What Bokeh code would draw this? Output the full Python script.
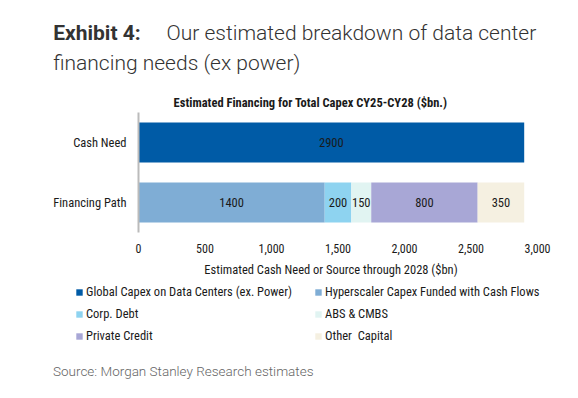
from bokeh.plotting import figure
from bokeh.layouts import column
from bokeh.models import (Range1d, FactorRange, FixedTicker, NumeralTickFormatter,
                          ColumnDataSource, Legend, LegendItem)
from bokeh.core.properties import value
from bokeh.embed import file_html
from bokeh.resources import INLINE

# ---- data ----
categories = ["Financing Path", "Cash Need"]
series_keys = ["global", "hyper", "corp", "abs", "private", "other"]
series_names = ["Global Capex on Data Centers (ex. Power)",
                "Hyperscaler Capex Funded with Cash Flows",
                "Corp. Debt", "ABS & CMBS", "Private Credit", "Other  Capital"]
financing_path = [0, 1400, 200, 150, 800, 350]
cash_need = [2900, 0, 0, 0, 0, 0]
x_ticks = [0, 500, 1000, 1500, 2000, 2500, 3000]
colors = ["#005BA6", "#7FADD5", "#8ED3F0", "#E1F4F2", "#A8A7D6", "#F5F0E1"]

COND = "Roboto Condensed, Roboto"
LIGHT = "Roboto Light, Roboto"
TXT = "#1a1a1a"
W = 562


def blank(h, y_top):
    f = figure(width=W, height=h, output_backend="svg", toolbar_location=None,
               x_range=Range1d(0, W), y_range=Range1d(y_top + h, y_top),
               x_axis_type=None, y_axis_type=None, min_border=0, title=None)
    f.outline_line_color = None
    f.xgrid.visible = False
    f.ygrid.visible = False
    return f


# ---- top: headings ----
top = blank(112, 0)
top.text(x=[52.7], y=[32.5], text=["Exhibit 4:"], text_font=value("Roboto"),
         text_font_style="bold", text_font_size="21px", text_color="#333333",
         text_baseline="middle")
top.text(x=[166, 52.7], y=[32.5, 62.5],
         text=["Our estimated breakdown of data center", "financing needs (ex power)"],
         text_font=value(LIGHT), text_font_size="21px", text_color="#333333",
         text_baseline="middle")
top.text(x=[310], y=[102], text=["Estimated Financing for Total Capex CY25-CY28 ($bn.)"],
         text_font=value(COND), text_font_style="bold", text_font_size="12.5px",
         text_color=TXT, text_align="center", text_baseline="middle")

# ---- main chart ----
data = {"cat": categories}
for i, k in enumerate(series_keys):
    data[k] = [financing_path[i], cash_need[i]]
src = ColumnDataSource(data)

p = figure(width=W, height=148, output_backend="svg", toolbar_location=None,
           x_range=Range1d(0, 3000), y_range=FactorRange(factors=categories),
           min_border_left=138, min_border_right=25, min_border_top=0,
           min_border_bottom=28, title=None)
p.y_range.range_padding = 0
p.outline_line_color = None
p.xgrid.visible = False
p.ygrid.visible = False

p.hbar_stack(series_keys, y="cat", height=0.667, color=colors, line_color=None,
             source=src)

lx, ly, lt = [], [], []
for cat, vals in zip(categories, [financing_path, cash_need]):
    left = 0
    for v in vals:
        if v:
            lx.append(left + v / 2)
            ly.append(cat)
            lt.append(str(v))
        left += v
p.text(x=lx, y=ly, text=lt, text_align="center", text_baseline="middle",
       text_font=value(COND), text_font_size="12.5px", text_color=TXT)

xa = p.xaxis[0]
xa.ticker = FixedTicker(ticks=x_ticks)
xa.formatter = NumeralTickFormatter(format="0,0")
xa.axis_line_color = None
xa.major_tick_line_color = None
xa.minor_tick_line_color = None
xa.major_tick_out = 0
xa.major_tick_in = 0
xa.major_label_standoff = 11
xa.major_label_text_font = COND
xa.major_label_text_font_size = "12px"
xa.major_label_text_color = TXT

ya = p.yaxis[0]
ya.axis_line_color = "#BBBBBB"
ya.axis_line_width = 2
ya.major_tick_line_color = None
ya.minor_tick_line_color = None
ya.major_tick_out = 0
ya.major_tick_in = 0
ya.major_label_standoff = 12
ya.major_label_text_font = COND
ya.major_label_text_font_size = "12.5px"
ya.major_label_text_color = TXT

# ---- bottom: axis title, legend, source ----
bot = blank(122, 260)
bot.text(x=[330.5], y=[269], text=["Estimated Cash Need or Source through 2028 ($bn)"],
         text_font=value(COND), text_font_size="12.5px", text_color=TXT,
         text_align="center", text_baseline="middle")
bot.text(x=[52.5], y=[370.5], text=["Source: Morgan Stanley Research estimates"],
         text_font=value(LIGHT), text_font_size="13.5px", text_color="#666666",
         text_baseline="middle")

# legend keys: hidden renderers of each series (never drawn, only their key)
proxies = [bot.hbar(y=k, right=k, height=1, source=src, fill_color=c,
                    line_color=None, visible=False)
           for k, c in zip(series_keys, colors)]
order = [0, 2, 4, 1, 3, 5]  # legend fills column by column
items = [LegendItem(label=series_names[i], renderers=[proxies[i]]) for i in order]
lg = Legend(items=items, ncols=2, location=(75, 36.5), border_line_color=None,
            background_fill_alpha=0, padding=0, margin=0, spacing=2,
            glyph_width=8, glyph_height=8, label_standoff=3, label_width=226,
            label_height=20, label_text_font=COND, label_text_font_size="12.5px",
            label_text_color=TXT, inactive_fill_alpha=0)
bot.add_layout(lg)

layout = column(column(top), p, column(bot), spacing=0)
open("out.html", "w").write(file_html(layout, INLINE))
